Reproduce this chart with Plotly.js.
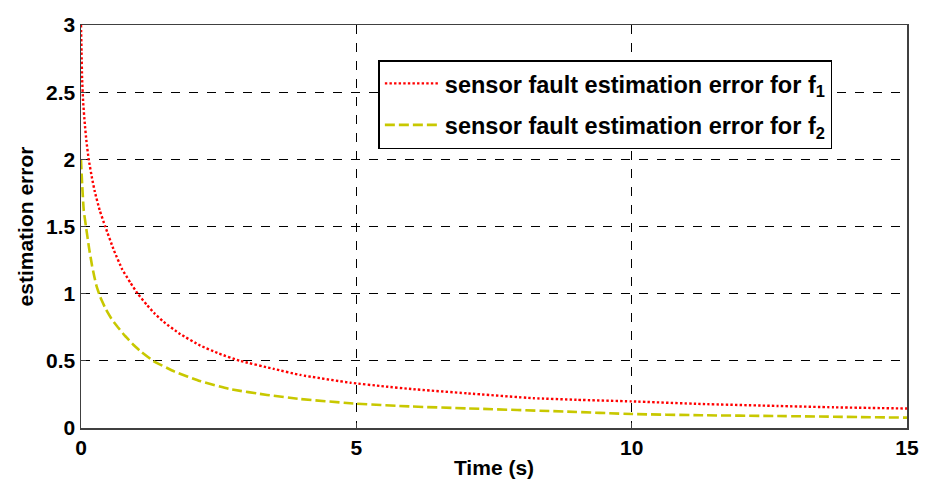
<!DOCTYPE html>
<html>
<head>
<meta charset="utf-8">
<script src="https://cdn.plot.ly/plotly-3.0.1.min.js"></script>
<style>html,body{margin:0;padding:0;background:#fff;}#chart{width:931px;height:486px;}</style>
</head>
<body>
<div id="chart"></div>
<script>
// Sensor fault estimation error for f1 (red dotted)
const timeF1 = [0, 0.01, 0.02, 0.04, 0.07, 0.10, 0.14, 0.2, 0.25, 0.34, 0.44, 0.6, 0.75, 0.9, 1.03, 1.2, 1.33, 1.5, 1.8, 2.16, 2.5, 2.89, 3.5, 3.98, 4.89, 5.5, 6, 7.01, 8.22, 9, 10, 11.25, 12.65, 13.67, 15];
const errF1  = [3.0, 2.8, 2.6, 2.42, 2.26, 2.13, 2.0, 1.86, 1.76, 1.62, 1.5, 1.32, 1.18, 1.08, 1.0, 0.915, 0.855, 0.79, 0.70, 0.615, 0.555, 0.5, 0.44, 0.395, 0.337, 0.31, 0.29, 0.258, 0.222, 0.21, 0.198, 0.179, 0.164, 0.154, 0.145];

// Sensor fault estimation error for f2 (olive dashed)
const timeF2 = [0, 0.02, 0.05, 0.09, 0.15, 0.2, 0.24, 0.28, 0.35, 0.45, 0.55, 0.67, 0.8, 0.95, 1.1, 1.31, 1.7, 2.16, 2.7, 3.38, 3.98, 4.89, 6, 7.01, 8.83, 10, 11.25, 12.65, 15];
const errF2  = [2.0, 1.82, 1.62, 1.5, 1.33, 1.21, 1.13, 1.06, 0.975, 0.885, 0.815, 0.75, 0.685, 0.62, 0.565, 0.5, 0.42, 0.35, 0.29, 0.246, 0.216, 0.184, 0.16, 0.146, 0.122, 0.104, 0.095, 0.089, 0.077];

const seriesNames = ['sensor fault estimation error for f<sub>1</sub>', 'sensor fault estimation error for f<sub>2</sub>'];
const xTicks = [0, 5, 10, 15];
const yTicks = [0, 0.5, 1, 1.5, 2, 2.5, 3];
const yTickText = ['0', '0.5', '1', '1.5', '2', '2.5', '3'];

const fam = 'Liberation Sans, Arial, sans-serif';
const tickFont = {family: fam, size: 21, color: '#000', weight: 'bold'};
const titleFont = {family: fam, size: 21, color: '#000', weight: 'bold'};
const legendFont = {family: fam, size: 23.5, color: '#000', weight: 'bold'};

const traces = [
  {x: timeF1, y: errF1, mode: 'lines', name: seriesNames[0], legendgroup: 'a',
   line: {color: '#ff0000', width: 2.4, dash: '2.4px,2.2px', shape: 'spline', smoothing: 0.4}},
  {x: timeF2, y: errF2, mode: 'lines', name: seriesNames[1], legendgroup: 'b',
   line: {color: '#c8c800', width: 2.6, dash: '10px,4px', shape: 'spline', smoothing: 0.4}}
];

const axisCommon = {
  showline: true, mirror: true, linecolor: '#404040', linewidth: 1.5,
  ticks: 'inside', ticklen: 5, tickcolor: '#404040',
  showgrid: true, gridcolor: '#000', griddash: 'dash', gridwidth: 1,
  zeroline: false, tickfont: tickFont
};

const layout = {
  width: 931, height: 486,
  margin: {l: 81, r: 24, t: 25, b: 58},
  paper_bgcolor: '#fff', plot_bgcolor: '#fff',
  showlegend: true,
  xaxis: Object.assign({}, axisCommon, {
    range: [0, 15], tickvals: xTicks, ticktext: xTicks.map(String),
    title: {text: 'Time (s)', font: titleFont, standoff: 2}
  }),
  yaxis: Object.assign({}, axisCommon, {
    range: [0, 3], tickvals: yTicks, ticktext: yTickText,
    title: {text: 'estimation error', font: titleFont, standoff: 6}
  }),
  legend: {
    x: 0.36, y: 0.913, xanchor: 'left', yanchor: 'top',
    bgcolor: '#fff', bordercolor: '#000', borderwidth: 1.5,
    font: legendFont, traceorder: 'grouped', tracegroupgap: 8,
    itemwidth: 55
  }
};

Plotly.newPlot('chart', traces, layout, {staticPlot: true, displayModeBar: false});
</script>
</body>
</html>
